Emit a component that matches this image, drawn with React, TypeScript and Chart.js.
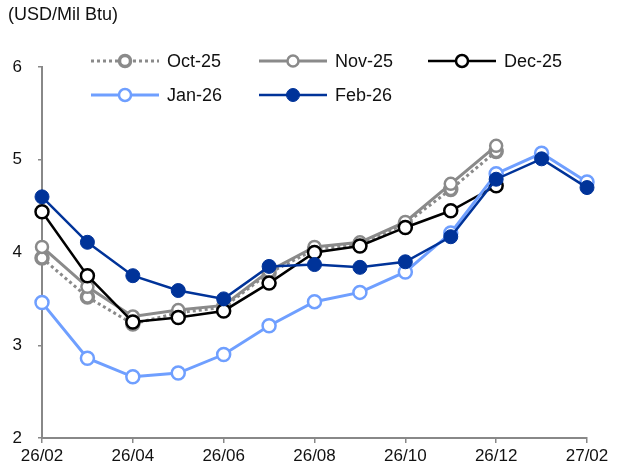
import React, { useEffect, useRef } from "react";
import { Chart, registerables } from "chart.js";

Chart.register(...registerables);

const categories = ["26/02", "26/03", "26/04", "26/05", "26/06", "26/07", "26/08", "26/09", "26/10", "26/11", "26/12", "27/01", "27/02"];
const yTickValues = [2, 3, 4, 5, 6];
const unitLabel = "(USD/Mil Btu)";

const seriesNames = ["Oct-25", "Nov-25", "Dec-25", "Jan-26", "Feb-26"];
const oct25 = [3.94, 3.52, 3.23, 3.35, 3.41, 3.78, 4.03, 4.09, 4.31, 4.68, 5.09];
const nov25 = [4.06, 3.63, 3.31, 3.38, 3.43, 3.8, 4.06, 4.11, 4.33, 4.74, 5.15];
const dec25 = [4.44, 3.75, 3.25, 3.3, 3.37, 3.67, 4.0, 4.07, 4.27, 4.45, 4.72];
const jan26 = [3.46, 2.86, 2.66, 2.7, 2.9, 3.21, 3.47, 3.57, 3.79, 4.21, 4.85, 5.07, 4.76];
const feb26 = [4.6, 4.11, 3.75, 3.59, 3.5, 3.85, 3.87, 3.84, 3.9, 4.17, 4.79, 5.01, 4.7];

const FONT = "'Liberation Sans', Arial, sans-serif";
const AXIS_GRAY = "#888888";

function narrowAvailable(): boolean {
  const c = document.createElement("canvas").getContext("2d");
  if (!c) return false;
  c.font = "40px 'Liberation Sans'";
  const a = c.measureText("26/02 Oct").width;
  c.font = "40px 'Liberation Sans Narrow', 'Liberation Sans'";
  const b = c.measureText("26/02 Oct").width;
  return b < a * 0.9;
}

const legendPlugin = {
  id: "customLegend",
  afterDraw(chart: any) {
    const ctx = chart.ctx;
    const narrow = chart.options.plugins.customLegend?.narrow;
    ctx.save();
    ctx.fillStyle = "#111";
    ctx.font = `18px ${FONT}`;
    ctx.textBaseline = "middle";
    ctx.textAlign = "left";
    ctx.fillText(unitLabel, 8, 15);

    const slots = [
      { x: 91, y: 61 },
      { x: 259, y: 61 },
      { x: 428, y: 61 },
      { x: 91, y: 95 },
      { x: 259, y: 95 },
    ];
    const lineLen = 68;
    chart.data.datasets.forEach((ds: any, i: number) => {
      const s = slots[i];
      ctx.save();
      ctx.strokeStyle = ds.borderColor;
      ctx.lineWidth = ds.borderWidth;
      ctx.setLineDash(ds.borderDash || []);
      ctx.beginPath();
      ctx.moveTo(s.x, s.y);
      ctx.lineTo(s.x + lineLen, s.y);
      ctx.stroke();
      ctx.setLineDash([]);
      ctx.beginPath();
      ctx.arc(s.x + lineLen / 2, s.y, ds.pointRadius - 0.5, 0, Math.PI * 2);
      ctx.fillStyle = ds.pointBackgroundColor;
      ctx.fill();
      ctx.lineWidth = ds.pointBorderWidth;
      ctx.strokeStyle = ds.pointBorderColor;
      ctx.stroke();
      ctx.restore();
      ctx.fillStyle = "#111";
      ctx.font = narrow ? `21px 'Liberation Sans Narrow', ${FONT}` : `18px ${FONT}`;
      ctx.textBaseline = "middle";
      ctx.textAlign = "left";
      ctx.fillText(ds.label, s.x + lineLen + 8, s.y + 1);
    });
    ctx.restore();
  },
};

export default function App() {
  const ref = useRef<HTMLCanvasElement | null>(null);

  useEffect(() => {
    document.body.style.margin = "0";
    if (!ref.current) return;
    const narrow = narrowAvailable();
    const tickFont = narrow
      ? { family: `'Liberation Sans Narrow', ${FONT}`, size: 20 }
      : { family: FONT, size: 17 };
    const gray = "#8a8a8a";
    const chart = new Chart(ref.current, {
      type: "line",
      data: {
        labels: categories,
        datasets: [
          {
            label: seriesNames[0],
            data: oct25,
            borderColor: gray,
            borderWidth: 3,
            borderDash: [3, 3],
            pointRadius: 6,
            pointBackgroundColor: "#ffffff",
            pointBorderColor: gray,
            pointBorderWidth: 3.5,
            order: 5,
          },
          {
            label: seriesNames[1],
            data: nov25,
            borderColor: gray,
            borderWidth: 3,
            pointRadius: 6,
            pointBackgroundColor: "#ffffff",
            pointBorderColor: gray,
            pointBorderWidth: 2.5,
            order: 4,
          },
          {
            label: seriesNames[2],
            data: dec25,
            borderColor: "#000000",
            borderWidth: 2.5,
            pointRadius: 6.5,
            pointBackgroundColor: "#ffffff",
            pointBorderColor: "#000000",
            pointBorderWidth: 2.5,
            order: 3,
          },
          {
            label: seriesNames[3],
            data: jan26,
            borderColor: "#6f9fff",
            borderWidth: 3,
            pointRadius: 6.5,
            pointBackgroundColor: "#ffffff",
            pointBorderColor: "#6f9fff",
            pointBorderWidth: 2.5,
            order: 2,
          },
          {
            label: seriesNames[4],
            data: feb26,
            borderColor: "#003399",
            borderWidth: 2.5,
            pointRadius: 7,
            pointBackgroundColor: "#003399",
            pointBorderColor: "#003399",
            pointBorderWidth: 1,
            order: 1,
          },
        ],
      },
      options: {
        responsive: false,
        animation: false,
        events: [],
        layout: { padding: { top: 67, right: 34, left: 0, bottom: 0 } },
        plugins: {
          legend: { display: false },
          title: { display: false },
          tooltip: { enabled: false },
          customLegend: { narrow },
        } as any,
        elements: { line: { tension: 0 } },
        scales: {
          x: {
            type: "category",
            offset: false,
            afterFit: (s: any) => {
              s.height = 30;
            },
            border: { display: true, color: AXIS_GRAY, width: 2 },
            grid: {
              drawOnChartArea: false,
              drawTicks: true,
              tickLength: 5,
              lineWidth: 1.5,
              tickColor: (c: any) => (c.index % 2 === 0 ? AXIS_GRAY : "rgba(0,0,0,0)"),
            },
            ticks: {
              autoSkip: false,
              maxRotation: 0,
              padding: narrow ? 2 : 3,
              color: "#111",
              font: tickFont,
              callback: (_v: any, i: number) => (i % 2 === 0 ? categories[i] : ""),
            },
          },
          y: {
            min: yTickValues[0],
            max: yTickValues[yTickValues.length - 1],
            afterFit: (s: any) => {
              s.width = 42;
            },
            afterBuildTicks: (s: any) => {
              s.ticks = yTickValues.map((v) => ({ value: v }));
            },
            border: { display: true, color: AXIS_GRAY, width: 2 },
            grid: {
              drawOnChartArea: false,
              drawTicks: true,
              tickLength: 4,
              lineWidth: 1.5,
              color: AXIS_GRAY,
            },
            ticks: {
              padding: 16,
              color: "#111",
              font: tickFont,
            },
          },
        },
      },
      plugins: [legendPlugin],
    });
    return () => chart.destroy();
  }, []);

  return (
    <div style={{ position: "absolute", left: 0, top: 0, width: 621, height: 468, background: "#fff" }}>
      <canvas ref={ref} width={621} height={468} />
    </div>
  );
}
